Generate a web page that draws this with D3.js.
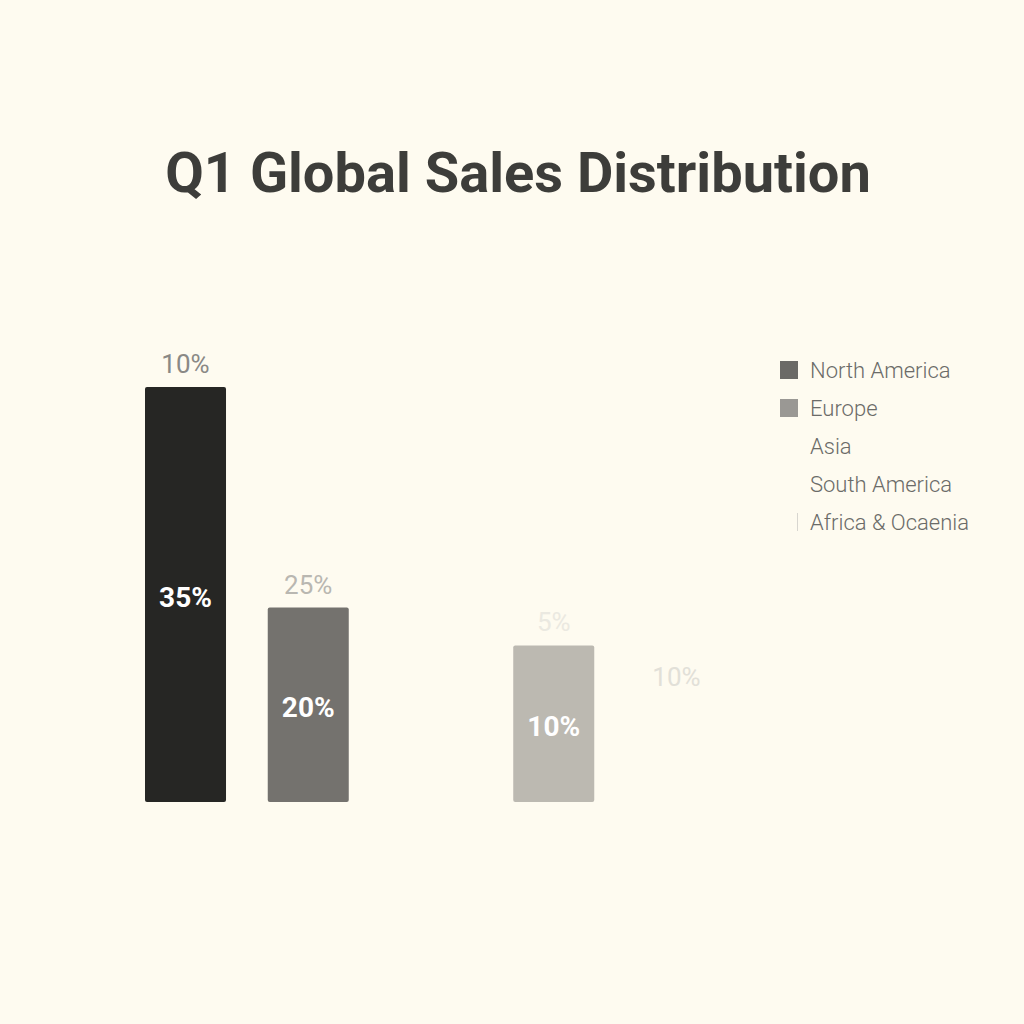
<!DOCTYPE html><html><head><meta charset="utf-8"><script src="https://cdn.jsdelivr.net/npm/d3@7"></script>
<style>body{margin:0;background:#fefbf0}</style></head><body><svg id="c" width="1024" height="1024"></svg><script>
const categories=["North America","Europe","Asia","South America","Africa & Ocaenia"];
const barValues=[35,16.4,0,13.2,8.6];
const innerLabels=["35%","20%","","10%",""];
const outerLabels=["10%","25%","","5%","10%"];
const barColors=["#262624","#74726e","#fefbf0","#bcb9b1","#fefbf0"];
const outerColors=["#8a8986","#b9b7b1","#ebe9e1","#ebe9e1","#e2e0d8"];
const legendColors=["#6b6a66","#9a9894","#fefbf0","#fefbf0","#d8d6d0"];
const svg=d3.select("#c");
svg.append("rect").attr("width",1024).attr("height",1024).attr("fill","#fefbf0");
svg.append("text").attr("x",518).attr("y",192).attr("text-anchor","middle").attr("font-family","Roboto").attr("font-weight","bold").attr("font-size",56).attr("fill","#3d3d3a").text("Q1 Global Sales Distribution");
const x=d3.scaleBand().domain(categories).range([145,717]).paddingInner(0.34).paddingOuter(0);
const y=d3.scaleLinear().domain([0,35]).range([802,387]);
const g=svg.append("g");
categories.forEach((c,i)=>{
 const bx=x(c),bw=x.bandwidth();
 g.append("rect").attr("x",bx).attr("y",y(barValues[i])).attr("width",bw).attr("height",802-y(barValues[i])).attr("fill",barColors[i]).attr("rx",2);
 if(innerLabels[i])g.append("text").attr("x",bx+bw/2).attr("y",(y(barValues[i])+802)/2+12).attr("text-anchor","middle").attr("font-family","Roboto").attr("font-weight","bold").attr("font-size",28).attr("fill","#fff").text(innerLabels[i]);
 if(outerLabels[i])g.append("text").attr("x",bx+bw/2).attr("y",y(barValues[i])-14).attr("text-anchor","middle").attr("font-family","Roboto").attr("font-size",26).attr("fill",outerColors[i]).text(outerLabels[i]);
});
const lg=svg.append("g");
categories.forEach((c,i)=>{
 const ly=370+i*38;
 if(i<2)lg.append("rect").attr("x",780).attr("y",ly-9).attr("width",18).attr("height",18).attr("fill",legendColors[i]);
 else if(i==4)lg.append("rect").attr("x",797).attr("y",ly-9).attr("width",1).attr("height",18).attr("fill",legendColors[i]);
 lg.append("text").attr("x",810).attr("y",ly+8).attr("font-family","Roboto").attr("font-weight",300).attr("font-size",22).attr("fill","#6b6b68").text(c);
});
</script></body></html>
